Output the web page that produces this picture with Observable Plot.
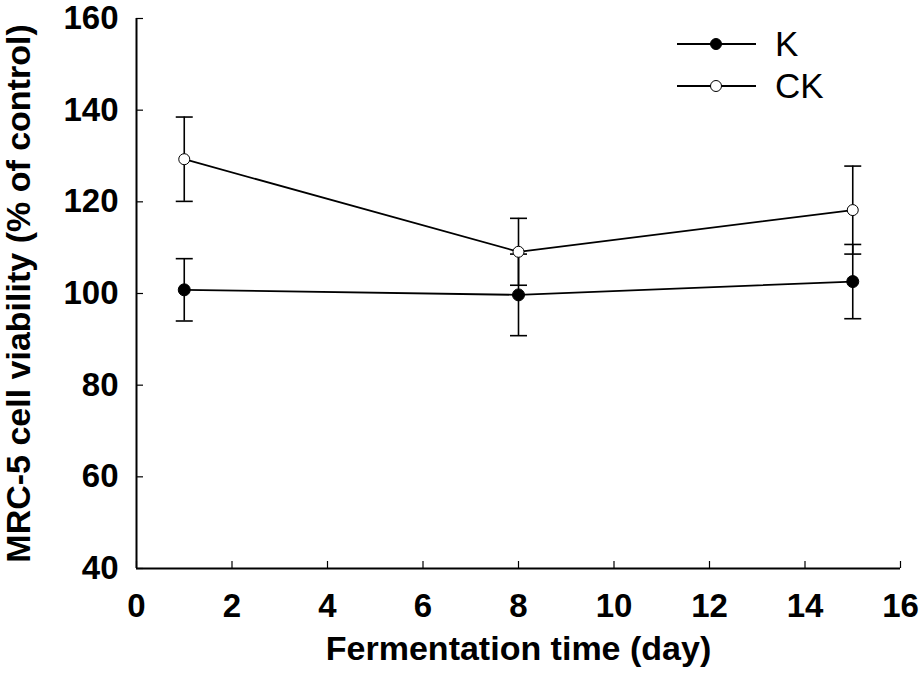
<!DOCTYPE html>
<html>
<head>
<meta charset="utf-8">
<script src="https://cdn.jsdelivr.net/npm/d3@7"></script>
<script src="https://cdn.jsdelivr.net/npm/@observablehq/plot@0.6"></script>
<style>
  html, body { margin: 0; padding: 0; background: #fff; }
  #chart svg { display: block; }
</style>
</head>
<body>
<div id="chart"></div>
<script>
const days = [1, 8, 15];
const kMean = [100.8, 99.7, 102.6];
const kErr = [6.8, 8.9, 8.1];
const ckMean = [129.3, 109.1, 118.2];
const ckErr = [9.2, 7.3, 9.6];
const seriesNames = ["K", "CK"];
const xTicks = [0, 2, 4, 6, 8, 10, 12, 14, 16];
const yTicks = [40, 60, 80, 100, 120, 140, 160];

const rows = [];
days.forEach((d, i) => {
  rows.push({series: "K", day: d, mean: kMean[i], err: kErr[i]});
  rows.push({series: "CK", day: d, mean: ckMean[i], err: ckErr[i]});
});
const kRows = rows.filter(r => r.series === "K");
const ckRows = rows.filter(r => r.series === "CK");

const FONT = "Liberation Sans, Arial, Helvetica, sans-serif";
const W = 921, H = 690;
const mL = 136, mR = 21, mT = 18, mB = 122;
const plotW = W - mL - mR, plotH = H - mT - mB;

const capSymbol = {
  draw(context) {
    context.moveTo(-8.5, 0);
    context.lineTo(8.5, 0);
  }
};

function legend() {
  const g = d3.create("svg:g");
  const items = [
    {name: seriesNames[0], y: 44, fill: "black"},
    {name: seriesNames[1], y: 86, fill: "white"}
  ];
  for (const it of items) {
    g.append("line").attr("x1", 677).attr("x2", 756).attr("y1", it.y).attr("y2", it.y)
      .attr("stroke", "black").attr("stroke-width", 1.8);
    g.append("circle").attr("cx", 716).attr("cy", it.y).attr("r", 5.5)
      .attr("fill", it.fill).attr("stroke", "black").attr("stroke-width", 1);
    g.append("text").attr("x", 775).attr("y", it.y + 12)
      .attr("text-anchor", "start")
      .attr("font-family", FONT).attr("font-size", 35).attr("fill", "black")
      .text(it.name);
  }
  return g.node();
}

const chart = Plot.plot({
  width: W,
  height: H,
  marginLeft: mL,
  marginRight: mR,
  marginTop: mT,
  marginBottom: mB,
  style: {fontFamily: FONT, background: "white", color: "black", overflow: "visible"},
  x: {domain: [0, 16]},
  y: {domain: [40, 160]},
  marks: [
    // tick labels
    Plot.axisX({ticks: xTicks, tickSize: 0, tickPadding: 25, fontSize: 33, fontWeight: "bold",
      label: "Fermentation time (day)", labelAnchor: "center", labelArrow: "none", labelOffset: 91}),
    Plot.axisY({ticks: yTicks, tickSize: 0, tickPadding: 18, fontSize: 33, fontWeight: "bold",
      label: "MRC-5 cell viability (% of control)", labelAnchor: "center", labelArrow: "none", labelOffset: 131}),
    // inward ticks
    Plot.tickX(xTicks, {x: d => d, insetTop: plotH - 7, stroke: "black", strokeWidth: 1.2}),
    Plot.tickY(yTicks, {y: d => d, insetRight: plotW - 7, stroke: "black", strokeWidth: 1.2}),
    // axis lines
    Plot.ruleX([0], {stroke: "black", strokeWidth: 2}),
    Plot.ruleY([40], {stroke: "black", strokeWidth: 2}),
    // series lines
    Plot.line(kRows, {x: "day", y: "mean", stroke: "black", strokeWidth: 1.8}),
    Plot.line(ckRows, {x: "day", y: "mean", stroke: "black", strokeWidth: 1.8}),
    // error bars
    Plot.ruleX(rows, {x: "day", y1: d => d.mean - d.err, y2: d => d.mean + d.err, stroke: "black", strokeWidth: 1.6}),
    Plot.dot(rows, {x: "day", y: d => d.mean + d.err, symbol: capSymbol, stroke: "black", strokeWidth: 1.6, fill: "none"}),
    Plot.dot(rows, {x: "day", y: d => d.mean - d.err, symbol: capSymbol, stroke: "black", strokeWidth: 1.6, fill: "none"}),
    // markers
    Plot.dot(kRows, {x: "day", y: "mean", r: 6, fill: "black", stroke: "black", strokeWidth: 1}),
    Plot.dot(ckRows, {x: "day", y: "mean", r: 5.5, fill: "white", stroke: "black", strokeWidth: 1}),
    legend
  ]
});

document.getElementById("chart").appendChild(chart);
// style axis labels
chart.querySelectorAll("g[aria-label='x-axis label'] text, g[aria-label='y-axis label'] text").forEach(t => {
  t.setAttribute("font-size", "34");
  t.setAttribute("font-weight", "bold");
});
</script>
</body>
</html>
